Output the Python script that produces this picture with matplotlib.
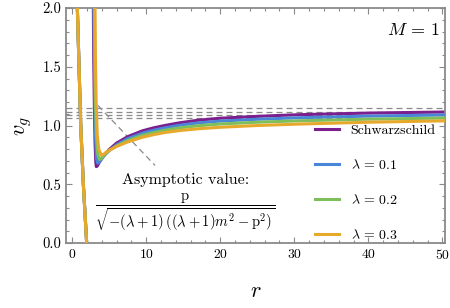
import matplotlib
matplotlib.use('Agg')
import matplotlib.pyplot as plt
from matplotlib.ticker import MultipleLocator, FormatStrFormatter

plt.rcParams['font.family'] = 'cmr10'
plt.rcParams['mathtext.fontset'] = 'cm'
plt.rcParams['axes.formatter.use_mathtext'] = True
plt.rcParams['lines.scale_dashes'] = False

# Data
labels = ['Schwarzschild', r'$\lambda\,=\,0.1$', r'$\lambda\,=\,0.2$', r'$\lambda\,=\,0.3$']
colors = ['#7b1f8e', '#4a86d8', '#7fbf5b', '#e6a92c']

# inner branch (all four curves coincide)
r_in = [0.60, 0.71, 0.94, 1.17, 1.52, 1.97, 2.05]
v_in = [2.30, 2.00, 1.50, 1.00, 0.50, 0.00, -0.10]

# outer branch, near the throat
r_head = [
    [2.85, 2.87, 2.92, 3.00, 3.10, 3.20, 3.27, 3.40, 3.70, 4.20],
    [2.92, 2.94, 3.00, 3.08, 3.18, 3.30, 3.45, 3.60, 3.90, 4.40],
    [3.00, 3.02, 3.07, 3.16, 3.28, 3.45, 3.70, 3.85, 4.10, 4.50],
    [3.08, 3.10, 3.15, 3.25, 3.40, 3.60, 3.94, 4.20, 4.50],
]
v_head = [
    [2.20, 2.00, 1.60, 1.20, 0.85, 0.69, 0.650, 0.655, 0.690, 0.735],
    [2.20, 2.00, 1.60, 1.20, 0.88, 0.72, 0.680, 0.685, 0.710, 0.750],
    [2.20, 2.00, 1.60, 1.20, 0.92, 0.76, 0.712, 0.714, 0.730, 0.760],
    [2.20, 2.00, 1.60, 1.20, 0.92, 0.80, 0.748, 0.752, 0.768],
]

# outer branch, far part
r_tail = [5.0, 6.0, 7.5, 9.5, 11.0, 12.5, 14.5, 17.0, 20.0, 25.0, 30.5, 40.0, 50.5]
v_tail = [
    [0.795, 0.850, 0.905, 0.955, 0.980, 1.000, 1.023, 1.045, 1.062, 1.078, 1.092, 1.106, 1.115],
    [0.785, 0.835, 0.888, 0.935, 0.960, 0.980, 1.002, 1.022, 1.038, 1.053, 1.066, 1.080, 1.090],
    [0.788, 0.825, 0.872, 0.917, 0.940, 0.960, 0.980, 0.998, 1.013, 1.028, 1.040, 1.054, 1.064],
    [0.788, 0.822, 0.860, 0.900, 0.922, 0.940, 0.957, 0.972, 0.985, 1.000, 1.012, 1.028, 1.040],
]

asymptotes = [1.146, 1.117, 1.089, 1.061]

fig = plt.figure(figsize=(4.5, 3.08), dpi=100)
ax = fig.add_axes([0.147, 0.211, 0.842, 0.763])

for y in asymptotes:
    ax.axhline(y, color='#8a8a8a', lw=0.9, dashes=(4.3, 2.9), zorder=1)

for i in range(4):
    ax.plot(r_in, v_in, color=colors[i], lw=2.2, solid_capstyle='butt', zorder=2 + i)
    ax.plot(r_head[i] + r_tail, v_head[i] + v_tail[i], color=colors[i], lw=2.2,
            label=labels[i], zorder=2 + i)

# pointer from the label to the asymptotes
ax.plot([3.5, 11.2], [1.17, 0.66], color='#8a8a8a', lw=0.9, dashes=(4.3, 2.9), zorder=1)

ax.text(15.3, 0.535, 'Asymptotic value:', fontsize=11.5, ha='center', va='center')
ax.text(15.3, 0.255,
        r'$\dfrac{\mathrm{p}}{\sqrt{-(\lambda+1)\,((\lambda+1)m^2-\mathrm{p}^2)}}$',
        fontsize=10.5, ha='center', va='center')
ax.text(49.6, 1.81, r'$M\,=\,1$', fontsize=13, ha='right', va='center')

ax.set_xlim(-0.8, 50.35)
ax.set_ylim(0, 2)
ax.xaxis.set_major_locator(MultipleLocator(10))
ax.xaxis.set_minor_locator(MultipleLocator(2))
ax.yaxis.set_major_locator(MultipleLocator(0.5))
ax.yaxis.set_minor_locator(MultipleLocator(0.1))
ax.yaxis.set_major_formatter(FormatStrFormatter('%.1f'))
ax.tick_params(which='both', direction='in', top=True, right=True, color='#8a8a8a',
               labelsize=10.5, width=0.8)
ax.tick_params(axis='x', labelsize=9.8)
ax.tick_params(which='major', length=4)
ax.tick_params(which='minor', length=2.2)
for s in ax.spines.values():
    s.set_color('#8a8a8a')
    s.set_linewidth(1.3)

ax.set_xlabel(r'$r$', fontsize=16, labelpad=14)
ax.set_ylabel(r'$v_g$', fontsize=16, labelpad=6)

ax.legend(loc='upper left', bbox_to_anchor=(0.657, 0.505), frameon=False,
          fontsize=10, handlelength=1.7, handletextpad=0.85, labelspacing=1.5,
          borderpad=0, borderaxespad=0)

fig.savefig('out.png', dpi=100)
